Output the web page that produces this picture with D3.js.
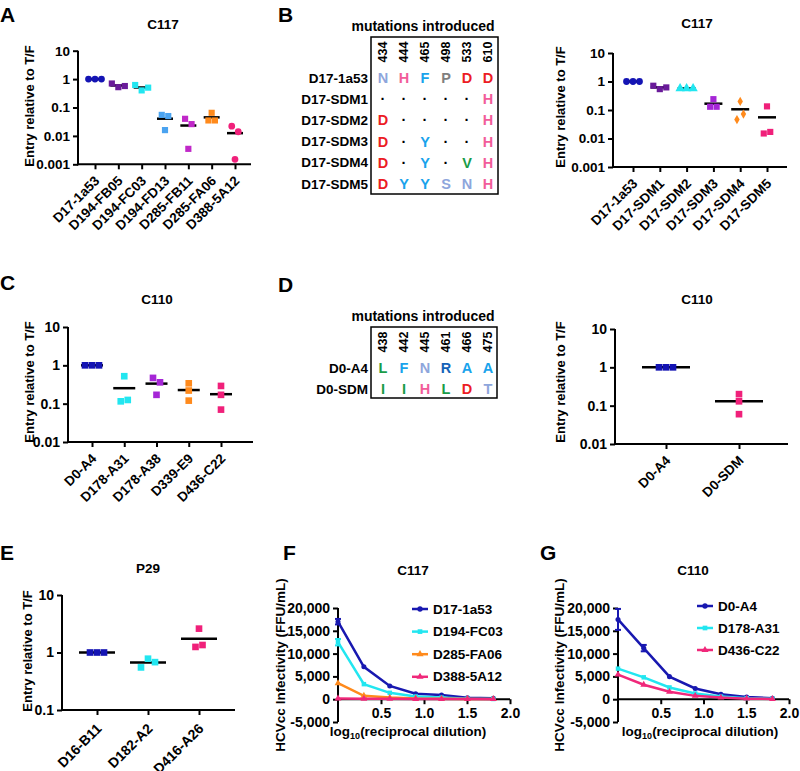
<!DOCTYPE html>
<html><head><meta charset="utf-8">
<script src="https://cdn.jsdelivr.net/npm/d3@7"></script>
<style>
body{margin:0;background:#fff;}
svg text{font-family:"Liberation Sans",Arial,sans-serif;font-weight:bold;fill:#000;}
</style></head><body>
<svg id="c" width="800" height="771"></svg>
<script>
// ---------------- DATA ----------------
const catsA = ["D17-1a53","D194-FB05","D194-FC03","D194-FD13","D285-FB11","D285-FA06","D388-5A12"];
const valsA = [[1,1,1],[0.70,0.52,0.57],[0.62,0.40,0.50],[0.055,0.016,0.05],[0.04,0.0035,0.026],[0.035,0.065,0.035],[0.022,0.0015,0.014]];
const colorsA = ["#1414b4","#6a1b9a","#22e6f0","#4aa3f0","#c028c8","#ff8a1c","#f0207a"];
const shapesA = ["circle","square","square","square","square","square","circle"];

const posB = ["434","444","465","498","533","610"];
const rowsB = ["D17-1a53","D17-SDM1","D17-SDM2","D17-SDM3","D17-SDM4","D17-SDM5"];
const resB = [["N","H","F","P","D","D"],["·","·","·","·","·","H"],["D","·","·","·","·","H"],["D","·","Y","·","·","H"],["D","·","Y","·","V","H"],["D","Y","Y","S","N","H"]];

const catsB = ["D17-1a53","D17-SDM1","D17-SDM2","D17-SDM3","D17-SDM4","D17-SDM5"];
const valsB = [[1,1,1],[0.71,0.54,0.62],[0.57,0.57,0.57],[0.13,0.24,0.13],[0.046,0.2,0.072],[0.015,0.134,0.017]];
const colorsB = ["#1414b4","#6a1b9a","#22e6f0","#a526d6","#ff8a1c","#f0207a"];
const shapesB = ["circle","square","triangle","square","diamond","square"];

const catsC = ["D0-A4","D178-A31","D178-A38","D339-E9","D436-C22"];
const valsC = [[1,1,1],[0.115,0.52,0.125],[0.47,0.17,0.36],[0.22,0.34,0.12],[0.29,0.17,0.07]];
const colorsC = ["#1414b4","#22e6f0","#a526d6","#ff8a1c","#f0207a"];

const posD = ["438","442","445","461","466","475"];
const rowsD = ["D0-A4","D0-SDM"];
const resD = [["L","F","N","R","A","A"],["I","I","H","L","D","T"]];

const catsD = ["D0-A4","D0-SDM"];
const valsD = [[1,1,1],[0.2,0.13,0.06]];
const colorsD = ["#1414b4","#f0207a"];

const catsE = ["D16-B11","D182-A2","D416-A26"];
const valsE = [[1,1,1],[0.55,0.78,0.68],[1.25,2.6,1.35]];
const colorsE = ["#1414b4","#22e6f0","#f0207a"];

const dilX = [0, 0.301, 0.602, 0.903, 1.204, 1.505, 1.806];
const seriesF = ["D17-1a53","D194-FC03","D285-FA06","D388-5A12"];
const valsF = [[17000,7100,2900,1200,900,300,200],[12500,3300,1400,600,350,100,50],[3500,750,350,150,80,40,20],[150,100,80,50,30,20,10]];
const errF = [[600,0,0,0,0,0,0],[700,0,0,0,0,0,0],[0,0,0,0,0,0,0],[0,0,0,0,0,0,0]];
const colorsF = ["#1818b0","#22e6f0","#ff8a1c","#f0287a"];
const shapesF = ["circle","square","triangle","triangle"];

const seriesG = ["D0-A4","D178-A31","D436-C22"];
const valsG = [[17500,11200,4950,2360,1100,500,220],[6700,4800,2580,1250,580,220,100],[5400,3180,1620,730,350,120,60]];
const errG = [[2300,700,0,0,0,0,0],[0,0,0,0,0,0,0],[0,0,0,0,0,0,0]];
const colorsG = ["#1818b0","#22e6f0","#f0287a"];
const shapesG = ["circle","square","triangle"];

const aaColor = {N:"#8ea6dc",H:"#f25c9a",F:"#1aa3ec",P:"#7f7f7f",D:"#ec1c24",Y:"#1aa3ec",V:"#1a9c48",S:"#8ea6dc",L:"#1a9c48",R:"#1462b8",A:"#1aa3ec",I:"#1a9c48",T:"#8ea6dc","·":"#000"};

// ---------------- DRAW ----------------
const svg = d3.select("#c");
const symMap = {circle:d3.symbolCircle,square:d3.symbolSquare,triangle:d3.symbolTriangle,diamond:d3.symbolDiamond};

function panelLetter(t,x,y){ svg.append("text").attr("x",x).attr("y",y).attr("font-size",21).text(t); }
function title(t,x,y,fs){ svg.append("text").attr("x",x).attr("y",y).attr("text-anchor","middle").attr("font-size",fs||13.5).text(t); }
function ylabel(t,x,cy,fs){ svg.append("text").attr("transform",`translate(${x},${cy}) rotate(-90)`).attr("text-anchor","middle").attr("dominant-baseline","central").attr("font-size",fs||13).text(t); }

function spread(vals, y, d){
  const idx = vals.map((v,i)=>i).sort((a,b)=>y(vals[a])-y(vals[b]));
  const clusters=[]; let cur=[idx[0]];
  for(let k=1;k<idx.length;k++){
    if(Math.abs(y(vals[idx[k]])-y(vals[idx[k-1]]))<d) cur.push(idx[k]); else {clusters.push(cur); cur=[idx[k]];}
  }
  clusters.push(cur);
  const off = new Array(vals.length).fill(0);
  clusters.forEach(c=>{ c.sort((a,b)=>a-b); c.forEach((i,j)=>off[i]=(j-(c.length-1)/2)*d); });
  return off;
}

function styleAxis(g, fs){
  g.attr("font-size",null).attr("font-family",null);
  g.selectAll("line").attr("stroke","#000").attr("stroke-width",2);
  g.selectAll("text").attr("font-size",fs);
  g.select(".domain").remove();
}

function scatter(o){
  const g = svg.append("g");
  const y = d3.scaleLog().domain([o.ymin,o.ymax]).range([o.yb,o.yt]);
  const x = d3.scalePoint().domain(o.cats).range([o.c0,o.c1]);
  const ya = g.append("g").attr("transform",`translate(${o.ax},0)`)
    .call(d3.axisLeft(y).tickValues(o.ticks).tickFormat(d3.format("~g")).tickSize(5).tickPadding(3));
  styleAxis(ya, o.tfs);
  const xa = g.append("g").attr("transform",`translate(0,${o.yb})`)
    .call(d3.axisBottom(x).tickSize(5).tickFormat(""));
  styleAxis(xa, o.tfs);
  g.append("line").attr("x1",o.ax).attr("x2",o.ax).attr("y1",o.yb+1).attr("y2",o.yt).attr("stroke","#000").attr("stroke-width",2);
  g.append("line").attr("x1",o.ax-1).attr("x2",o.xe).attr("y1",o.yb).attr("y2",o.yb).attr("stroke","#000").attr("stroke-width",2);
  // category labels
  const lo = o.lo || 14;
  o.cats.forEach(c=>{
    g.append("text").attr("transform",`translate(${x(c)+2},${o.yb+lo}) rotate(-45)`)
      .attr("text-anchor","end").attr("dy","0.35em").attr("font-size",o.cfs).text(c);
  });
  // mean lines
  o.vals.forEach((vs,i)=>{
    const m = d3.mean(vs);
    g.append("line").attr("x1",x(o.cats[i])-o.mw).attr("x2",x(o.cats[i])+o.mw)
      .attr("y1",y(m)).attr("y2",y(m)).attr("stroke","#000").attr("stroke-width",2.5);
  });
  // points
  o.vals.forEach((vs,i)=>{
    const off = spread(vs,y,o.d);
    const shp = o.shapes ? o.shapes[i] : "square";
    const sym = d3.symbol().type(symMap[shp]).size(shp==="circle"?o.d*o.d*0.85:(shp==="diamond"?o.d*o.d*0.6:o.d*o.d*0.9));
    vs.forEach((v,j)=>{
      g.append("path").attr("d",sym()).attr("fill",o.colors[i])
        .attr("transform",`translate(${x(o.cats[i])+off[j]},${y(v)})`);
    });
  });
}

function table(o){
  const g = svg.append("g");
  g.append("text").attr("x",o.tx).attr("y",o.ty).attr("text-anchor","middle").attr("font-size",14).text("mutations introduced");
  g.append("rect").attr("x",o.x0).attr("y",o.y0).attr("width",o.x1-o.x0).attr("height",o.y1-o.y0)
    .attr("fill","none").attr("stroke","#000").attr("stroke-width",1.5);
  const cx = d3.scalePoint().domain(o.pos).range([o.c0,o.c1]);
  const ry = d3.scalePoint().domain(o.rows).range([o.r0,o.r1]);
  o.pos.forEach(p=>{
    g.append("text").attr("transform",`translate(${cx(p)},${o.hy}) rotate(-90)`).attr("text-anchor","middle")
      .attr("dominant-baseline","central").attr("font-size",12.5).text(p);
  });
  o.rows.forEach((r,i)=>{
    g.append("text").attr("x",o.x0-3).attr("y",ry(r)).attr("text-anchor","end").attr("dominant-baseline","central").attr("font-size",13.5).text(r);
    o.res[i].forEach((a,j)=>{
      g.append("text").attr("x",cx(o.pos[j])).attr("y",ry(r)).attr("text-anchor","middle").attr("dominant-baseline","central")
        .attr("font-size",14.5).style("fill",aaColor[a]).text(a);
    });
  });
}

const fmt = d3.formatLocale({decimal:".",thousands:",",grouping:[3],currency:["$",""],minus:"-"});

function lineChart(o){
  const g = svg.append("g");
  const x = d3.scaleLinear().domain([0,2]).range([o.ax,o.xe]);
  const y = d3.scaleLinear().domain([-5000,20000]).range([o.yb,o.yt]);
  const ya = g.append("g").attr("transform",`translate(${o.ax},0)`)
    .call(d3.axisLeft(y).tickValues([-5000,0,5000,10000,15000,20000]).tickFormat(fmt.format(",")).tickSize(5).tickPadding(3));
  styleAxis(ya,14);
  const xa = g.append("g").attr("transform",`translate(0,${y(0)})`)
    .call(d3.axisBottom(x).tickValues([0.5,1,1.5,2]).tickFormat(d3.format(".1f")).tickSize(5).tickPadding(4));
  styleAxis(xa,14);
  g.append("line").attr("x1",o.ax).attr("x2",o.ax).attr("y1",o.yb).attr("y2",o.yt).attr("stroke","#000").attr("stroke-width",2);
  g.append("line").attr("x1",o.ax).attr("x2",o.xe).attr("y1",y(0)).attr("y2",y(0)).attr("stroke","#000").attr("stroke-width",2);
  const line = d3.line().x((d,i)=>x(dilX[i])).y(d=>y(d));
  o.vals.forEach((vs,s)=>{
    g.append("path").attr("d",line(vs)).attr("fill","none").attr("stroke",o.colors[s]).attr("stroke-width",2.5);
    vs.forEach((v,i)=>{
      const e = o.err[s][i];
      if(e>0){
        const xx = x(dilX[i]);
        g.append("line").attr("x1",xx).attr("x2",xx).attr("y1",y(v-e)).attr("y2",y(v+e)).attr("stroke",o.colors[s]).attr("stroke-width",2);
        [v-e,v+e].forEach(w=>g.append("line").attr("x1",xx-3).attr("x2",xx+3).attr("y1",y(w)).attr("y2",y(w)).attr("stroke",o.colors[s]).attr("stroke-width",2));
      }
    });
    const sym = d3.symbol().type(symMap[o.shapes[s]]).size(20);
    vs.forEach((v,i)=>{
      g.append("path").attr("d",sym()).attr("fill",o.colors[s]).attr("transform",`translate(${x(dilX[i])},${y(v)})`);
    });
  });
  // legend
  o.series.forEach((n,s)=>{
    const ly = o.ly0 + s*o.ldy;
    g.append("line").attr("x1",o.lx).attr("x2",o.lx+16).attr("y1",ly).attr("y2",ly).attr("stroke",o.colors[s]).attr("stroke-width",2.5);
    g.append("path").attr("d",d3.symbol().type(symMap[o.shapes[s]]).size(22)()).attr("fill",o.colors[s]).attr("transform",`translate(${o.lx+8},${ly})`);
    g.append("text").attr("x",o.lx+21).attr("y",ly).attr("dominant-baseline","central").attr("font-size",13.5).text(n);
  });
  // axis labels
  ylabel("HCVcc Infectivity (FFU/mL)", o.ylx, 665, 13.5);
  const t = g.append("text").attr("x",o.xlx).attr("y",736).attr("text-anchor","middle").attr("font-size",13.5);
  t.append("tspan").text("log");
  t.append("tspan").attr("font-size",9).attr("dy",3).text("10");
  t.append("tspan").attr("dy",-3).text("(reciprocal dilution)");
}

// Panel A
panelLetter("A",0,22);
title("C117",163,28.5);
ylabel("Entry relative to T/F",29,106);
scatter({cats:catsA,vals:valsA,colors:colorsA,shapes:shapesA,ymin:0.001,ymax:10,ticks:[10,1,0.1,0.01,0.001],
  ax:78,xe:251,yt:50.7,yb:164.3,c0:95,c1:235,tfs:13.5,cfs:13.5,mw:8,d:6.5});

// Panel B
panelLetter("B",278,22);
table({pos:posB,rows:rowsB,res:resB,x0:371,x1:498,y0:37,y1:194,c0:383,c1:488,r0:78,r1:184,hy:52,tx:423,ty:31});
title("C117",697,28);
ylabel("Entry relative to T/F",560,107);
scatter({cats:catsB,vals:valsB,colors:colorsB,shapes:shapesB,ymin:0.001,ymax:10,ticks:[10,1,0.1,0.01,0.001],
  ax:613,xe:787,yt:53,yb:167,c0:633,c1:767,tfs:13.5,cfs:13.5,mw:9,d:6.5});

// Panel C
panelLetter("C",0,290);
title("C110",157,303.5);
ylabel("Entry relative to T/F",29,382);
scatter({cats:catsC,vals:valsC,colors:colorsC,ymin:0.01,ymax:10,ticks:[10,1,0.1,0.01],
  ax:68,xe:253,yt:327,yb:442,c0:92,c1:221,tfs:14,cfs:13.5,mw:11,d:7});

// Panel D
panelLetter("D",278,292);
table({pos:posD,rows:rowsD,res:resD,x0:371,x1:497,y0:327,y1:398,c0:383,c1:488,r0:368,r1:389,hy:342,tx:423,ty:321});
title("C110",697,304);
ylabel("Entry relative to T/F",560,382);
scatter({cats:catsD,vals:valsD,colors:colorsD,ymin:0.01,ymax:10,ticks:[10,1,0.1,0.01],
  ax:615,xe:788,yt:329,yb:444,c0:666,c1:739,tfs:14,cfs:13.5,mw:24,d:7});

// Panel E
panelLetter("E",0,560);
title("P29",148,573);
ylabel("Entry relative to T/F",27,651);
scatter({cats:catsE,vals:valsE,colors:colorsE,ymin:0.1,ymax:10,ticks:[10,1,0.1],
  ax:62,xe:235,yt:595,yb:710,c0:97,c1:199,tfs:14,cfs:14,mw:18,d:7,lo:16});

// Panel F
panelLetter("F",283,560);
title("C117",413,575);
lineChart({vals:valsF,err:errF,colors:colorsF,shapes:shapesF,series:seriesF,ax:338,xe:510,yt:608,yb:722,
  lx:412,ly0:609,ldy:22.6,ylx:280,xlx:408});

// Panel G
panelLetter("G",540,560);
title("C110",693,575);
lineChart({vals:valsG,err:errG,colors:colorsG,shapes:shapesG,series:seriesG,ax:618,xe:789,yt:608,yb:722,
  lx:697,ly0:606,ldy:22,ylx:559,xlx:700});
</script>
</body></html>
